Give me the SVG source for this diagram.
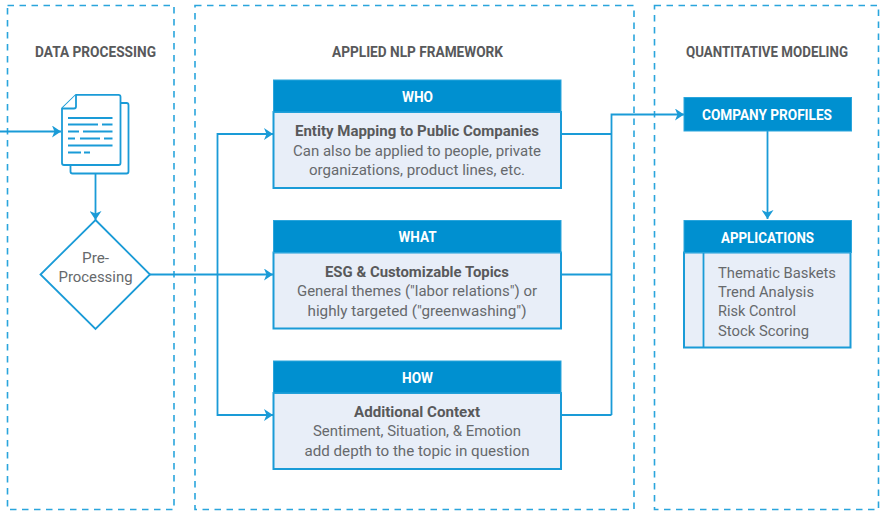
<svg xmlns="http://www.w3.org/2000/svg" width="880" height="513" viewBox="0 0 880 513">
<style>
text{font-family:"Roboto","Liberation Sans",sans-serif;fill:#66696c;text-anchor:middle;font-size:15px}
.l{text-anchor:start}
.t{font-weight:700;fill:#58595b}
.h{font-weight:700;fill:#fff}
.b{font-weight:700;fill:#58595b}
.panel{fill:none;stroke:#2aa5dc;stroke-width:1.600;stroke-dasharray:6.500 5.500}
.hd{fill:#0090d0;stroke:#2aa5dc;stroke-width:1}
.bd{fill:#e8eef8;stroke:#1a9bd7;stroke-width:2}
.ln{fill:none;stroke:#1a9bd7;stroke-width:1.800}
.ic{fill:#fff;stroke:#1a9bd7;stroke-width:1.800;stroke-linejoin:round}
.ar{fill:none;stroke:#1a9bd7;stroke-width:1.800;marker-end:url(#a)}
</style>
<defs><marker id="a" markerUnits="userSpaceOnUse" markerWidth="10" markerHeight="12" refX="9" refY="6" orient="auto"><path d="M0 0L9 6L0 12L2.500 6Z" fill="#1a9bd7"/></marker></defs>
<g id="panels">
<rect class="panel" x="7.500" y="5.500" width="166.500" height="504"/>
<rect class="panel" x="195" y="5.500" width="439" height="504"/>
<rect class="panel" x="654.500" y="5.500" width="224" height="504"/>
<text class="t" x="95.500" y="57" textLength="121" lengthAdjust="spacingAndGlyphs">DATA PROCESSING</text>
<text class="t" x="417.500" y="57" textLength="171" lengthAdjust="spacingAndGlyphs">APPLIED NLP FRAMEWORK</text>
<text class="t" x="767" y="57" textLength="162" lengthAdjust="spacingAndGlyphs">QUANTITATIVE MODELING</text>
</g>
<g id="connectors">
<path class="ar" d="M0 131.500H61"/>
<path class="ar" d="M95.500 173V220"/>
<path class="ar" d="M150 274.500H273"/>
<path class="ar" d="M217.500 274.500V134H273"/>
<path class="ar" d="M217.500 274.500V415H273"/>
<path class="ln" d="M561 134H611.500M561 274.500H611.500M561 415H611.500"/>
<path class="ar" d="M611.500 415V114.500H684"/>
<path class="ar" d="M767.500 131V219"/>
</g>
<g id="documents">
<rect class="ic" x="70.500" y="103" width="58" height="70.500" rx="2"/>
<path class="ic" d="M76 94.800H118.500Q120.500 94.800 120.500 96.800V163Q120.500 165 118.500 165H64Q62 165 62 163V108.500Z"/>
<path class="ic" d="M76 94.800V106.500Q76 108.500 74 108.500H62"/>
<path class="ln" d="M68 118H112.500M68 124.500H98M102 124.500H112.500M68 131.500H79M83 131.500H112.500M68 138.500H75M80 138.500H100M104 138.500H112.500M68 145.500H112.500M68 152.500H81M84 152.500H90"/>
</g>
<g id="preprocessing">
<path d="M95.500 220L150 274.500L95.500 329L40.500 274.500Z" fill="#fff" stroke="#1a9bd7" stroke-width="1.800"/>
<text x="95.500" y="263" textLength="27" lengthAdjust="spacingAndGlyphs">Pre-</text>
<text x="95.500" y="282" textLength="74" lengthAdjust="spacingAndGlyphs">Processing</text>
</g>
<g id="who">
<rect class="bd" x="273.500" y="112" width="287.500" height="76"/>
<rect class="hd" x="273.500" y="80" width="287.500" height="32"/>
<text class="h" x="417.500" y="101.500" textLength="31" lengthAdjust="spacingAndGlyphs">WHO</text>
<text class="b" x="417" y="136" textLength="244" lengthAdjust="spacingAndGlyphs">Entity Mapping to Public Companies</text>
<text x="417" y="155.500" textLength="248" lengthAdjust="spacingAndGlyphs">Can also be applied to people, private</text>
<text x="417" y="175" textLength="216" lengthAdjust="spacingAndGlyphs">organizations, product lines, etc.</text>
</g>
<g id="what">
<rect class="bd" x="273.500" y="252.500" width="287.500" height="76"/>
<rect class="hd" x="273.500" y="220.500" width="287.500" height="32"/>
<text class="h" x="417.500" y="242" textLength="38" lengthAdjust="spacingAndGlyphs">WHAT</text>
<text class="b" x="417" y="276.500" textLength="184" lengthAdjust="spacingAndGlyphs">ESG &amp; Customizable Topics</text>
<text x="417" y="296" textLength="240" lengthAdjust="spacingAndGlyphs">General themes ("labor relations") or</text>
<text x="417" y="315.500" textLength="219" lengthAdjust="spacingAndGlyphs">highly targeted ("greenwashing")</text>
</g>
<g id="how">
<rect class="bd" x="273.500" y="393" width="287.500" height="76"/>
<rect class="hd" x="273.500" y="361" width="287.500" height="32"/>
<text class="h" x="417.500" y="382.500" textLength="31" lengthAdjust="spacingAndGlyphs">HOW</text>
<text class="b" x="417" y="416.500" textLength="126" lengthAdjust="spacingAndGlyphs">Additional Context</text>
<text x="417" y="436" textLength="208" lengthAdjust="spacingAndGlyphs">Sentiment, Situation, &amp; Emotion</text>
<text x="417" y="455.500" textLength="225" lengthAdjust="spacingAndGlyphs">add depth to the topic in question</text>
</g>
<g id="company-profiles">
<rect class="hd" x="684" y="97.500" width="167.500" height="33.500"/>
<text class="h" x="767" y="119.500" textLength="130" lengthAdjust="spacingAndGlyphs">COMPANY PROFILES</text>
</g>
<g id="applications">
<rect class="bd" x="684" y="252.500" width="166.500" height="95"/>
<path class="ln" d="M703.500 252.500V347.500"/>
<rect class="hd" x="684" y="220.500" width="167.500" height="32"/>
<text class="h" x="767.500" y="242.500" textLength="93" lengthAdjust="spacingAndGlyphs">APPLICATIONS</text>
<text class="l" x="718" y="278" textLength="118" lengthAdjust="spacingAndGlyphs">Thematic Baskets</text>
<text class="l" x="718" y="297" textLength="96" lengthAdjust="spacingAndGlyphs">Trend Analysis</text>
<text class="l" x="718" y="316" textLength="78" lengthAdjust="spacingAndGlyphs">Risk Control</text>
<text class="l" x="718" y="335.500" textLength="91" lengthAdjust="spacingAndGlyphs">Stock Scoring</text>
</g>
</svg>
